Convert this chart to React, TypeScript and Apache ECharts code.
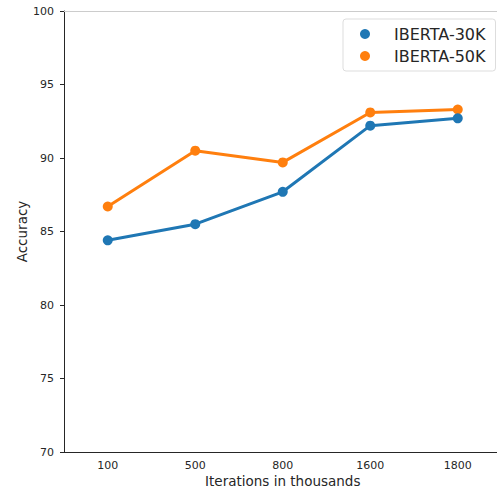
import React, { useEffect, useRef } from "react";
import * as echarts from "echarts";

const categories = ["100", "500", "800", "1600", "1800"];
const iberta30k = [84.4, 85.5, 87.7, 92.2, 92.7];
const iberta50k = [86.7, 90.5, 89.7, 93.1, 93.3];
const yTicks = [70, 75, 80, 85, 90, 95, 100];

const FONT = "DejaVu Sans";

export default function App() {
  const ref = useRef<HTMLDivElement>(null);
  useEffect(() => {
    if (!ref.current) return;
    const chart = echarts.init(ref.current, null, { renderer: "svg" });
    const mkSeries = (name: string, data: number[], color: string) => ({
      name,
      type: "line",
      data,
      symbol: "circle",
      symbolSize: 10,
      lineStyle: { width: 3, color },
      itemStyle: { color },
      z: name === "IBERTA-30K" ? 3 : 2,
    });
    chart.setOption({
      animation: false,
      textStyle: { fontFamily: FONT },
      grid: {
        left: 64,
        top: 11,
        width: 437.5,
        height: 441,
        containLabel: false,
        outerBoundsMode: "none",
      },
      legend: {
        orient: "vertical",
        left: 343,
        top: 19,
        icon: "circle",
        itemWidth: 10,
        itemHeight: 10,
        itemGap: 6,
        padding: [7, 10, 7, 17],
        borderColor: "#dddddd",
        borderWidth: 1,
        borderRadius: 3,
        backgroundColor: "#ffffff",
        textStyle: { fontFamily: FONT, fontSize: 16, color: "#262626", padding: [0, 0, 0, 19] },
        data: ["IBERTA-30K", "IBERTA-50K"],
      },
      xAxis: {
        type: "category",
        data: categories,
        boundaryGap: true,
        name: "Iterations in thousands",
        nameLocation: "middle",
        nameMoveOverlap: false,
        nameGap: 22,
        nameTextStyle: { fontFamily: FONT, fontSize: 13.5, lineHeight: 14, color: "#262626" },
        axisLine: { lineStyle: { color: "#262626", width: 1 } },
        axisTick: { alignWithLabel: true, length: 4, lineStyle: { color: "#262626" } },
        axisLabel: { fontFamily: FONT, fontSize: 11, color: "#262626", margin: 8 },
        splitLine: { show: false },
      },
      yAxis: {
        type: "value",
        min: yTicks[0],
        max: yTicks[yTicks.length - 1],
        interval: 5,
        name: "Accuracy",
        nameLocation: "middle",
        nameMoveOverlap: false,
        nameGap: 35,
        nameRotate: 90,
        nameTextStyle: { fontFamily: FONT, fontSize: 13.5, lineHeight: 14, color: "#262626" },
        axisLine: { show: true, lineStyle: { color: "#262626", width: 1 } },
        axisTick: { show: true, length: 4, lineStyle: { color: "#262626" } },
        axisLabel: { fontFamily: FONT, fontSize: 11, color: "#262626", margin: 10 },
        splitLine: { show: false },
      },
      series: [
        mkSeries("IBERTA-30K", iberta30k, "#1f77b4"),
        mkSeries("IBERTA-50K", iberta50k, "#ff7f0e"),
        {
          type: "line",
          data: [],
          markLine: {
            silent: true,
            symbol: "none",
            label: { show: false },
            lineStyle: { color: "#cccccc", width: 1, type: "solid" },
            data: [{ yAxis: 100 }],
          },
        },
      ],
    });
    return () => chart.dispose();
  }, []);
  return <div ref={ref} style={{ width: 497, height: 488, position: "absolute", left: 0, top: 0 }} />;
}
